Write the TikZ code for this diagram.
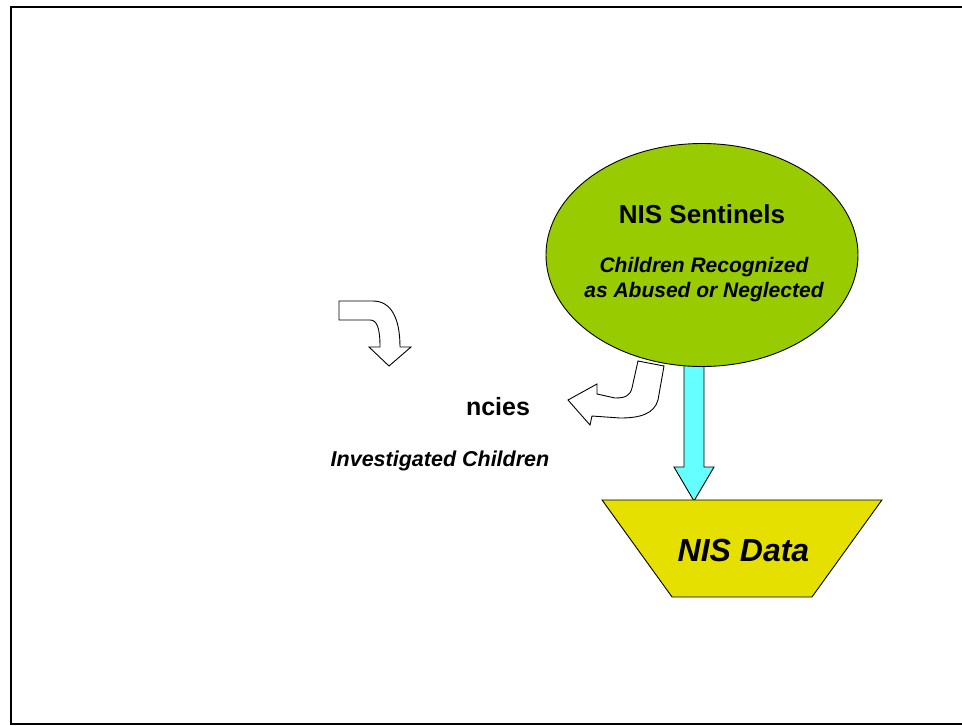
\documentclass[tikz,border=0pt]{standalone}
\usepackage{fontspec}
\setmainfont{Liberation Sans}
\usetikzlibrary{shapes.geometric}
\definecolor{sentgreen}{HTML}{99CC00}
\definecolor{datayellow}{HTML}{E6E000}
\definecolor{flowcyan}{HTML}{66FFFF}
\tikzset{
 frame/.style={line width=2pt},
 blockarrow/.style={draw,line width=.9pt,line join=miter},
 sentinel/.style={ellipse,draw,line width=.9pt,fill=sentgreen,minimum width=312pt,minimum height=223pt,inner sep=0},
 datatrap/.style={trapezium,draw,line width=.9pt,fill=datayellow,shape border rotate=180,trapezium stretches=true,trapezium left angle=63.43,trapezium right angle=63.43,minimum width=280pt,minimum height=97pt,inner sep=2pt,outer sep=0pt},
 headtext/.style={font=\bfseries,anchor=base},
 subtext/.style={font=\bfseries\itshape,anchor=base}
}
\begin{document}
\begin{tikzpicture}[x=1pt,y=-1pt]
\useasboundingbox (0,0) rectangle (962,726);
\draw[frame] (11,7) rectangle (975,724);
% block arrow down to the data
\coordinate (tip) at (694,501);
\draw[blockarrow,fill=flowcyan] (684,355) -- (704,355) -- (704,467) -- (714,467) -- (tip) -- (674,467) -- (684,467) -- cycle;
\node[sentinel] (sent) at (702,255) {};
\node[datatrap] (data) at (742,548.5) {};
% curved arrows
\draw[blockarrow,fill=white] (339,301) -- (373,301) .. controls (391,301) and (400,318) .. (400,347) -- (411,347) -- (389,366) -- (369,347) -- (380,347) .. controls (380,328) and (377,320) .. (370,320) -- (339,320) -- cycle;
\draw[blockarrow,fill=white] (638,361) -- (664,366) -- (658,400) .. controls (654,414) and (640,418) .. (620,418) -- (592,416) -- (590,425) -- (568,400) -- (597,384) -- (597,394) -- (615,398) .. controls (625,398) and (630,396) .. (632,388) -- cycle;
% texts
\node[headtext,font=\bfseries\fontsize{26}{30}\selectfont] (senttitle) at (702,223) {NIS Sentinels};
\node[subtext,font=\bfseries\itshape\fontsize{21}{25}\selectfont] (sentsub1) at (704,272) {Children Recognized};
\node[subtext,font=\bfseries\itshape\fontsize{21}{25}\selectfont] (sentsub2) at (704,297) {as Abused or Neglected};
\node[headtext,font=\bfseries\fontsize{25}{30}\selectfont] (agtitle) at (498,415) {ncies};
\node[subtext,font=\bfseries\itshape\fontsize{21.5}{25}\selectfont] (agsub) at (440,466) {Investigated Children};
\node[subtext,font=\bfseries\itshape\fontsize{32}{38}\selectfont] (datatitle) at (743.5,561) {NIS Data};
\end{tikzpicture}
\end{document}
